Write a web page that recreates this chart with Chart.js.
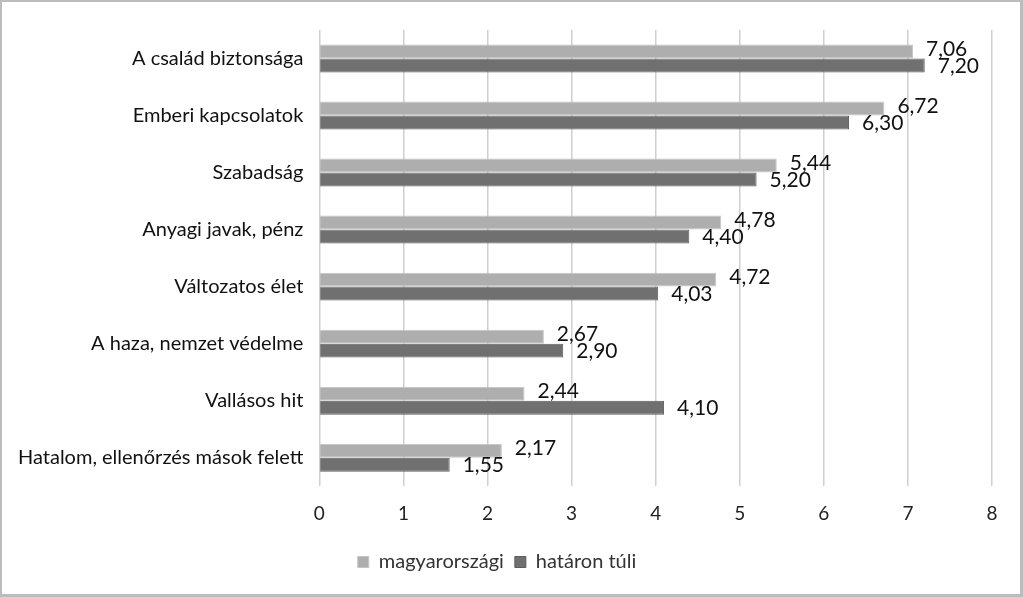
<!DOCTYPE html>
<html><head><meta charset="utf-8">
<script src="https://cdn.jsdelivr.net/npm/chart.js@4/dist/chart.umd.min.js"></script>
<style>
html,body{margin:0;padding:0;background:#fff;}
#wrap{position:relative;width:1023px;height:597px;box-sizing:border-box;border:2px solid #bcbcbc;border-right-width:3px;border-bottom-width:3px;background:#fff;}
canvas{display:block;}
</style></head><body>
<div id="wrap"><canvas id="c" width="1018" height="592"></canvas></div>
<script>
const categories = ["A család biztonsága","Emberi kapcsolatok","Szabadság","Anyagi javak, pénz","Változatos élet","A haza, nemzet védelme","Vallásos hit","Hatalom, ellenőrzés mások felett"];
const magyarorszagi = [7.06,6.72,5.44,4.78,4.72,2.67,2.44,2.17];
const hataronTuli = [7.20,6.30,5.20,4.40,4.03,2.90,4.10,1.55];
const seriesNames = ["magyarországi","határon túli"];
const xTicks = [0,1,2,3,4,5,6,7,8];

const FONT = "Lato, 'Open Sans', sans-serif";

const labelPlugin = {
  id:'vals',
  afterDatasetsDraw(chart){
    const ctx = chart.ctx;
    ctx.save();
    ctx.font = "21px " + FONT;
    ctx.fillStyle = "#111";
    ctx.textBaseline = "middle";
    ctx.textAlign = "left";
    chart.data.datasets.forEach((ds,di)=>{
      const meta = chart.getDatasetMeta(di);
      meta.data.forEach((bar,i)=>{
        const v = ds.data[i];
        const txt = v.toFixed(2).replace('.',',');
        const dy = di===0 ? -2 : 1;
        ctx.fillText(txt, bar.x + 13, bar.y + dy);
      });
    });
    ctx.restore();
  }
};

new Chart(document.getElementById('c'),{
  type:'bar',
  data:{
    labels:categories,
    datasets:[
      {label:seriesNames[0],data:magyarorszagi,backgroundColor:'#aeaeae',borderColor:'#c4c4c4',borderWidth:1,categoryPercentage:0.49,barPercentage:1.0},
      {label:seriesNames[1],data:hataronTuli,backgroundColor:'#707070',borderColor:'#5c5c5c',borderWidth:1,categoryPercentage:0.49,barPercentage:1.0}
    ]
  },
  options:{
    indexAxis:'y',
    responsive:false,
    animation:false,
    devicePixelRatio:1,
    layout:{padding:{left:0,right:28,top:21,bottom:12}},
    plugins:{
      legend:{position:'bottom',labels:{font:{family:FONT,size:20},color:'#333',boxWidth:11,boxHeight:11,padding:11}},
      tooltip:{enabled:false}
    },
    scales:{
      x:{
        min:0,max:8,
        afterBuildTicks(s){ s.ticks = xTicks.map(v=>({value:v})); },
        grid:{color:'#cfcfcf',lineWidth:1.5,drawTicks:false},
        border:{display:false},
        ticks:{font:{family:FONT,size:19},color:'#222',padding:16}
      },
      y:{
        grid:{display:false,drawTicks:false},
        border:{display:false},
        ticks:{font:{family:FONT,size:20},color:'#111',padding:16}
      }
    }
  },
  plugins:[labelPlugin]
});
</script>
</body></html>
